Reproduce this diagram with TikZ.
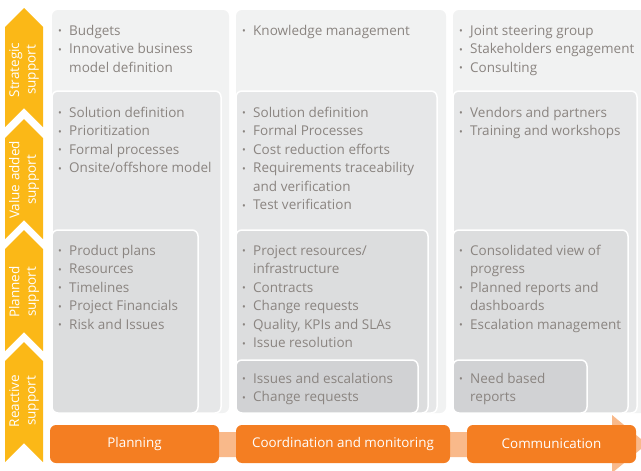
\documentclass[tikz,border=0pt]{standalone}
\usepackage{fontspec}
\setmainfont{Open Sans}
\usetikzlibrary{positioning}

\definecolor{chevron_yellow}{HTML}{FBB817}
\definecolor{box_strategic}{HTML}{F1F2F2}
\definecolor{box_value}{HTML}{E6E7E8}
\definecolor{box_planned}{HTML}{DCDDDE}
\definecolor{box_reactive}{HTML}{D1D2D4}
\definecolor{item_grey}{HTML}{8A8480}
\definecolor{stage_orange}{HTML}{F47E22}
\definecolor{band_orange}{HTML}{F9B98A}

% small bullet and the indent of a wrapped line
\newcommand{\bul}{\makebox[11pt][l]{\raisebox{0.3pt}{\fontsize{10}{10}\selectfont\textbullet}}}
\newcommand{\cont}{\hspace*{11pt}}

\tikzstyle{chevron_label} = [
    white,
    rotate=90,
    align=center,
    inner sep=0pt,
    font=\fontsize{13.5}{16.5}\selectfont
]
\tikzstyle{item_list} = [
    anchor=north west,
    align=left,
    inner sep=0pt,
    text=item_grey,
    font=\fontsize{13.5}{18.5}\selectfont
]
\tikzstyle{panel} = [
    rounded corners=6pt
]
\tikzstyle{inner_panel} = [
    rounded corners=6pt,
    draw=white,
    line width=1.5pt
]
\tikzstyle{stage_box} = [
    fill=stage_orange,
    rounded corners=6pt,
    text=white,
    inner sep=0pt,
    minimum height=38pt,
    font=\fontsize{13.4}{16}\selectfont
]

\begin{document}
\begin{tikzpicture}[x=1pt, y=-1pt]
\useasboundingbox (0,0) rectangle (641,471);
\clip (0,0) rectangle (641,471);

% chevrons on the left, tip and notch of each
\foreach \tip/\notch in {8/108, 119/220, 230/332, 342/443}{
    \fill[chevron_yellow] (5,\tip+19) -- (24,\tip) -- (43,\tip+19)
        -- (43,\notch+19) -- (24,\notch) -- (5,\notch+19) -- cycle;
}
\node[chevron_label] (lbl_strategic) at (24,70)  {Strategic\\support};
\node[chevron_label] (lbl_value)     at (24,180) {Value added\\support};
\node[chevron_label] (lbl_planned)   at (24,292) {Planned\\support};
\node[chevron_label] (lbl_reactive)  at (24,401) {Reactive\\support};

% first column
\fill[panel, box_strategic] (52,10) rectangle (229,413);
\filldraw[inner_panel, fill=box_value] (52,91) rectangle (221,413);
\filldraw[inner_panel, fill=box_planned] (52,230) rectangle (198,413);

% second column
\fill[panel, box_strategic] (236,10) rectangle (446,413);
\filldraw[inner_panel, fill=box_value] (236,91) rectangle (437,413);
\filldraw[inner_panel, fill=box_planned] (236,230) rectangle (428,413);
\filldraw[inner_panel, fill=box_reactive] (236,360) rectangle (418,413);

% third column
\fill[panel, box_strategic] (453,10) rectangle (660,413);
\filldraw[inner_panel, fill=box_value] (453,91) rectangle (637,413);
\filldraw[inner_panel, fill=box_planned] (453,230) rectangle (628,413);
\filldraw[inner_panel, fill=box_reactive] (453,360) rectangle (587,413);

\node[item_list] (col1_strategic) at (58,23) {\rule{0pt}{12pt}\bul Budgets\\
    \bul Innovative business\\ \cont model definition};
\node[item_list] (col1_value) at (58,105) {\rule{0pt}{12pt}\bul Solution definition\\
    \bul Prioritization\\ \bul Formal processes\\ \bul Onsite/offshore model};
\node[item_list] (col1_planned) at (58,243) {\rule{0pt}{12pt}\bul Product plans\\
    \bul Resources\\ \bul Timelines\\ \bul Project Financials\\ \bul Risk and Issues};

\node[item_list] (col2_strategic) at (242,23) {\rule{0pt}{12pt}\bul Knowledge management};
\node[item_list] (col2_value) at (242,105) {\rule{0pt}{12pt}\bul Solution definition\\
    \bul Formal Processes\\ \bul Cost reduction efforts\\
    \bul Requirements traceability\\ \cont and verification\\ \bul Test verification};
\node[item_list] (col2_planned) at (242,243) {\rule{0pt}{12pt}\bul Project resources/\\
    \cont infrastructure\\ \bul Contracts\\ \bul Change requests\\
    \bul Quality, KPIs and SLAs\\ \bul Issue resolution};
\node[item_list] (col2_reactive) at (242,371) {\rule{0pt}{12pt}\bul Issues and escalations\\
    \bul Change requests};

\node[item_list] (col3_strategic) at (459,23) {\rule{0pt}{12pt}\bul Joint steering group\\
    \bul Stakeholders engagement\\ \bul Consulting};
\node[item_list] (col3_value) at (459,105) {\rule{0pt}{12pt}\bul Vendors and partners\\
    \bul Training and workshops};
\node[item_list] (col3_planned) at (459,243) {\rule{0pt}{12pt}\bul Consolidated view of\\
    \cont progress\\ \bul Planned reports and\\ \cont dashboards\\
    \bul Escalation management};
\node[item_list] (col3_reactive) at (459,371) {\rule{0pt}{12pt}\bul Need based\\
    \cont reports};

% arrow behind the stages
\fill[band_orange] (50,432) -- (612,432) -- (612,415) -- (647,444)
    -- (612,473) -- (612,457) -- (50,457) -- cycle;

\node[stage_box, minimum width=169pt] (planning) at (134.5,444) {Planning};
\node[stage_box, minimum width=214pt] (coordination) at (343,444) {Coordination and monitoring};
\node[stage_box, minimum width=169pt] (communication) at (551.5,444) {Communication};
\end{tikzpicture}
\end{document}
